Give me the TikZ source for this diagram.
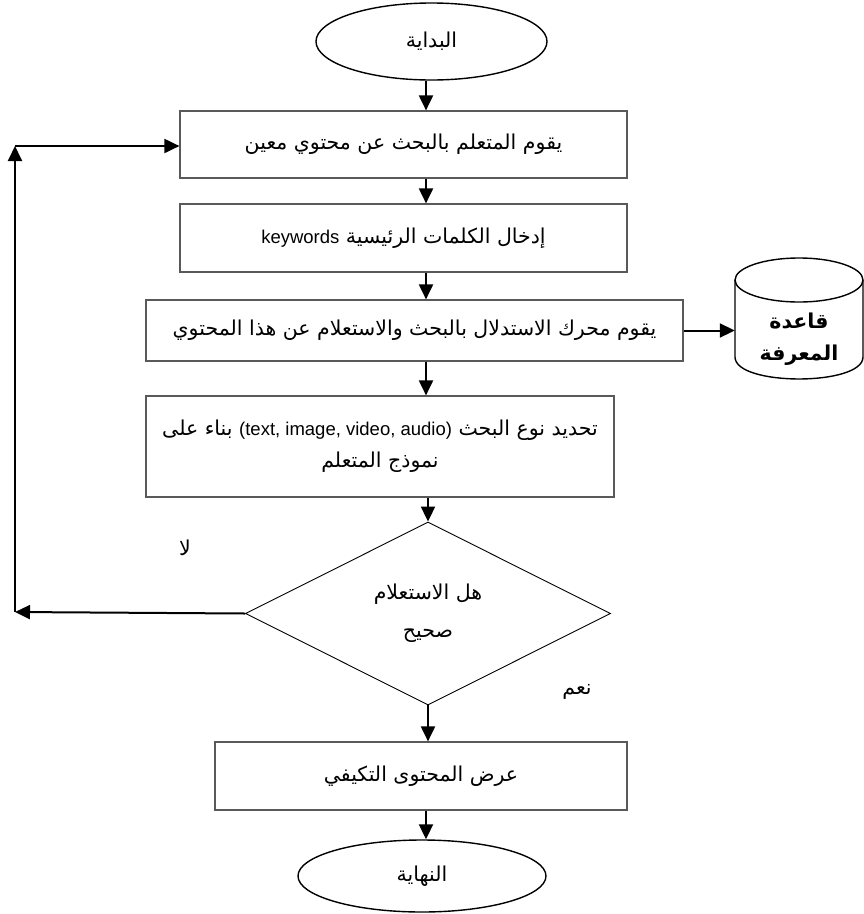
\documentclass[tikz,border=0pt]{standalone}
\usepackage{fontspec}
\setmainfont{Liberation Sans}
\newfontfamily\arabicfont[Script=Arabic]{DejaVu Sans}
\newfontfamily\latinfont{Liberation Sans}
\TeXXeTstate=1
\usetikzlibrary{arrows.meta,shapes.geometric}
\newcommand{\myR}[1]{\beginR #1\endR}
\newcommand{\fs}{\fontsize{20.5}{32}\selectfont}
\newcommand{\lfs}{\fontsize{18.5}{32}\selectfont}
\begin{document}
\begin{tikzpicture}[x=1pt,y=-1pt,
  proc/.style={draw=black!65, line width=1.2pt, inner sep=0pt, align=center, font=\arabicfont\fs},
  term/.style={ellipse, draw=black, line width=1.4pt, inner sep=0pt, font=\arabicfont\fs},
  decide/.style={diamond, draw=black, line width=0.9pt, inner sep=0pt, align=center, font=\arabicfont\fs},
  arr/.style={-{Triangle[length=15pt,width=14pt]}, line width=2pt},
  lbl/.style={font=\arabicfont\fs, inner sep=0pt}]
\useasboundingbox (0,0) rectangle (864,914);
\coordinate (ax) at (426,0);
\node[term, minimum width=231, minimum height=77] (start) at (431.5,41.5) {\myR{البداية}};
\node[proc, minimum width=447, minimum height=67] (box1) at (403.5,144.5) {\myR{يقوم المتعلم بالبحث عن  محتوي معين}};
\node[proc, minimum width=447, minimum height=68] (box2) at (403.5,238) {\myR{إدخال الكلمات الرئيسية \beginL{\latinfont\lfs keywords}\endL}};
\node[proc, minimum width=537, minimum height=61] (box3) at (414.5,330.5) {\myR{يقوم محرك الاستدلال بالبحث والاستعلام عن هذا المحتوي}};
\node[proc, minimum width=468, minimum height=101] (box4) at (380,446.5) {\myR{تحديد نوع البحث \beginL{\latinfont\lfs (text, image, video, audio)}\endL{} بناء على}\\\myR{نموذج المتعلم}};
\node[decide, minimum width=365, minimum height=183] (dec) at (428,613.5) {\myR{هل الاستعلام}\\[6pt]\myR{صحيح}};
\node[proc, minimum width=412, minimum height=68] (box5) at (421,776) {\myR{عرض المحتوى التكيفي}};
\node[term, minimum width=248, minimum height=72] (end) at (422,876) {\myR{النهاية}};
% knowledge base cylinder
\node[minimum width=128, minimum height=122, inner sep=0pt] (kb) at (799,319) {};
\draw[line width=1.4pt] (799,280) ellipse [x radius=64, y radius=22];
\draw[line width=1.4pt] (735,280) -- (735,357) .. controls (735,386.3) and (863,386.3) .. (863,357) -- (863,280);
\node[inner sep=0pt, align=center, font=\arabicfont\bfseries\fs] (kbtext) at (799,339) {\myR{قاعدة}\\[0pt]\myR{المعرفة}};
% loop coordinates
\coordinate (c1) at (15,612);
\coordinate (c2) at (15,146);
% connectors
\draw[arr] (start.south -| ax) -- (box1.north -| ax);
\draw[arr] (box1.south -| ax) -- (box2.north -| ax);
\draw[arr] (box2.south -| ax) -- (box3.north -| ax);
\draw[arr] (box3.east) -- (kb.west |- box3.east);
\draw[arr] (box3.south -| ax) -- (box4.north -| ax);
\draw[arr] (box4.south -| dec.north) -- (dec.north);
\draw[arr] (dec.south) -- (box5.north -| dec.south);
\draw[arr] (box5.south -| ax) -- (end.north -| ax);
\draw[arr] (dec.west) -- (c1);
\draw[arr] (c1) -- (c2);
\draw[arr] (c2) -- (box1.west |- c2);
% labels
\node[lbl] (no) at (185,548) {\myR{لا}};
\node[lbl] (yes) at (577,692) {\myR{نعم}};
\end{tikzpicture}
\end{document}
